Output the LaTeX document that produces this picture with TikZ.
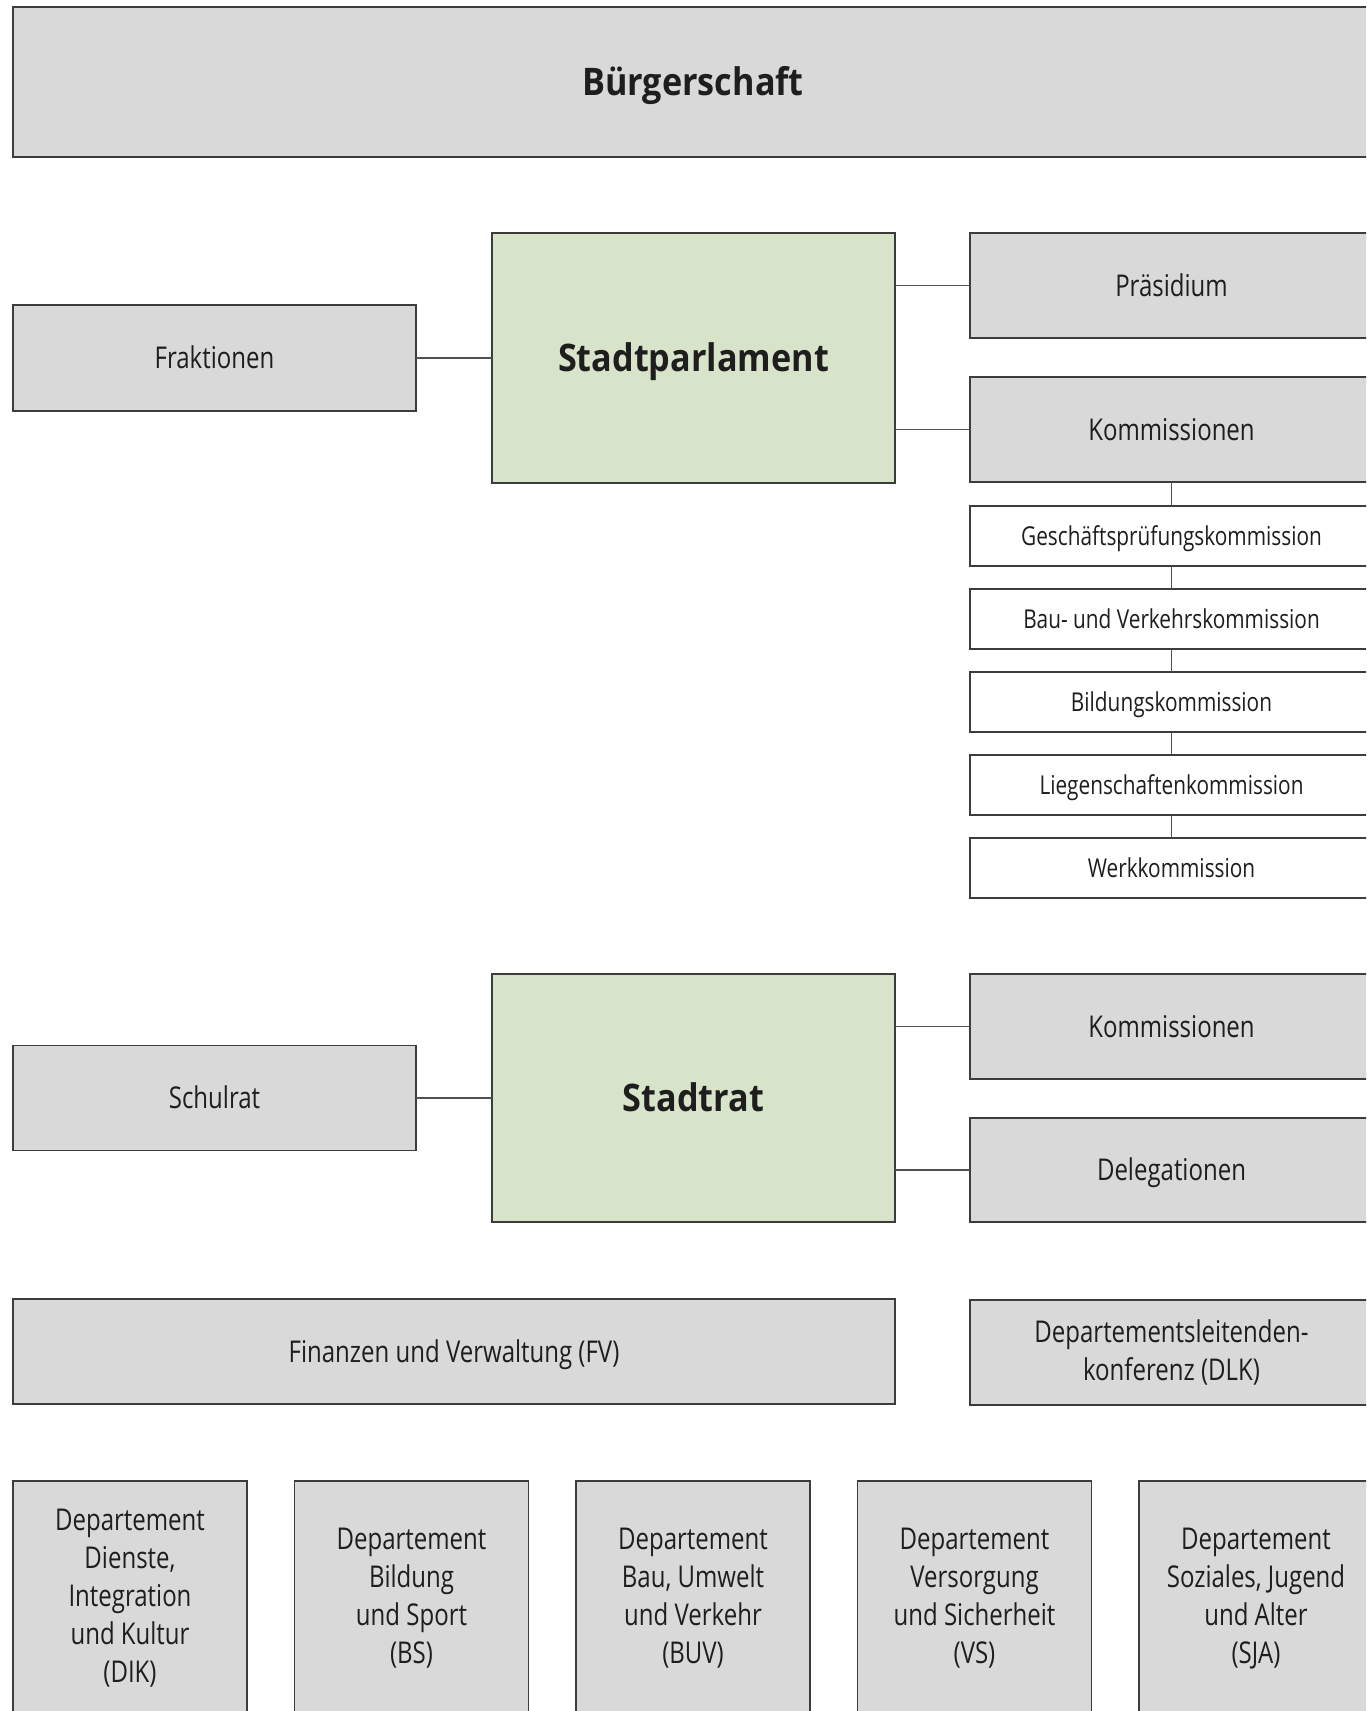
\documentclass[tikz,border=0pt]{standalone}
\usepackage{fontspec}
\setmainfont{Open Sans}[FakeStretch=0.8,BoldFeatures={FakeStretch=0.9}]
\definecolor{boxgray}{HTML}{D9D9D9}
\definecolor{boxgreen}{HTML}{D8E4CA}
\definecolor{lineC}{HTML}{3C3C3C}
\definecolor{connC}{HTML}{505050}
\definecolor{txtC}{HTML}{1E1E1E}
\begin{document}
\begin{tikzpicture}[x=1pt,y=-1pt,
  box/.style={draw=lineC, line width=1.5pt, fill=boxgray, inner sep=0pt, outer sep=0pt, align=center, text=txtC, font=\fontsize{30}{38}\selectfont},
  oneline/.style={text height=21.4pt, text depth=0pt},
  bigbox/.style={box, minimum width=403pt},
  greenbox/.style={box, fill=boxgreen, minimum width=403pt, font=\fontsize{38}{44}\selectfont\bfseries, text height=27.1pt, text depth=0pt},
  subbox/.style={box, fill=white, minimum width=403pt, minimum height=60pt, font=\fontsize{26}{30}\selectfont, text height=18.6pt, text depth=0pt},
  deptbox/.style={box, minimum width=234pt, minimum height=250pt},
  depttext/.style={align=center, text=txtC, inner sep=0pt, font=\fontsize{30}{38}\selectfont},
  conn/.style={draw=connC, line width=1.3pt}]
\fill[white] (0,0) rectangle (1366,1711);
\clip (0,0) rectangle (1366,1711);

\node[box, minimum width=1360pt, minimum height=150pt, font=\fontsize{38}{44}\selectfont\bfseries, text height=27.1pt, text depth=0pt] (buerger) at (693,82) {Bürgerschaft};

\node[bigbox, oneline, minimum height=106pt] (fraktionen) at (214.5,358) {Fraktionen};
\node[greenbox, minimum height=250pt] (parlament) at (693.5,358) {Stadtparlament};
\node[bigbox, oneline, minimum height=105pt] (praesidium) at (1171.5,285.5) {Präsidium};
\node[bigbox, oneline, minimum height=105pt] (kommP) at (1171.5,429.5) {Kommissionen};

\node[subbox] (gpk) at (1171.5,536) {Geschäftsprüfungskommission};
\node[subbox] (bvk) at (1171.5,619) {Bau- und Verkehrskommission};
\node[subbox] (bik) at (1171.5,702) {Bildungskommission};
\node[subbox] (lgk) at (1171.5,785) {Liegenschaftenkommission};
\node[subbox] (wkk) at (1171.5,868) {Werkkommission};

\node[greenbox, minimum height=248pt] (stadtrat) at (693.5,1098) {Stadtrat};
\node[bigbox, oneline, minimum height=105pt] (schulrat) at (214.5,1098) {Schulrat};
\node[bigbox, oneline, minimum height=105pt] (kommS) at (1171.5,1026.5) {Kommissionen};
\node[bigbox, oneline, minimum height=104pt] (deleg) at (1171.5,1170) {Delegationen};

\node[box, oneline, minimum width=882pt, minimum height=105pt] (finanzen) at (454,1351.5) {Finanzen und Verwaltung (FV)};
\node[bigbox, minimum height=105pt] (dlk) at (1171.5,1352.5) {Departementsleitenden-\\konferenz (DLK)};

\node[deptbox] (dik) at (130,1606) {};
\node[deptbox] (bs) at (411.5,1606) {};
\node[deptbox] (buv) at (693,1606) {};
\node[deptbox] (vs) at (974.5,1606) {};
\node[deptbox] (sja) at (1256,1606) {};
\node[depttext] (dikT) at (130,1598.5) {Departement\\Dienste,\\Integration\\und Kultur\\(DIK)};
\node[depttext] (bsT) at (411.5,1598.5) {Departement\\Bildung\\und Sport\\(BS)};
\node[depttext] (buvT) at (693,1598.5) {Departement\\Bau, Umwelt\\und Verkehr\\(BUV)};
\node[depttext] (vsT) at (974.5,1598.5) {Departement\\Versorgung\\und Sicherheit\\(VS)};
\node[depttext] (sjaT) at (1256,1598.5) {Departement\\Soziales, Jugend\\und Alter\\(SJA)};

\draw[conn] (fraktionen.east) -- (parlament.west);
\draw[conn] (praesidium.west) -- (praesidium.west -| parlament.east);
\draw[conn] (kommP.west) -- (kommP.west -| parlament.east);
\draw[conn] (kommP.south) -- (gpk.north);
\draw[conn] (gpk.south) -- (bvk.north);
\draw[conn] (bvk.south) -- (bik.north);
\draw[conn] (bik.south) -- (lgk.north);
\draw[conn] (lgk.south) -- (wkk.north);
\draw[conn] (schulrat.east) -- (stadtrat.west);
\draw[conn] (kommS.west) -- (kommS.west -| stadtrat.east);
\draw[conn] (deleg.west) -- (deleg.west -| stadtrat.east);
\end{tikzpicture}
\end{document}
